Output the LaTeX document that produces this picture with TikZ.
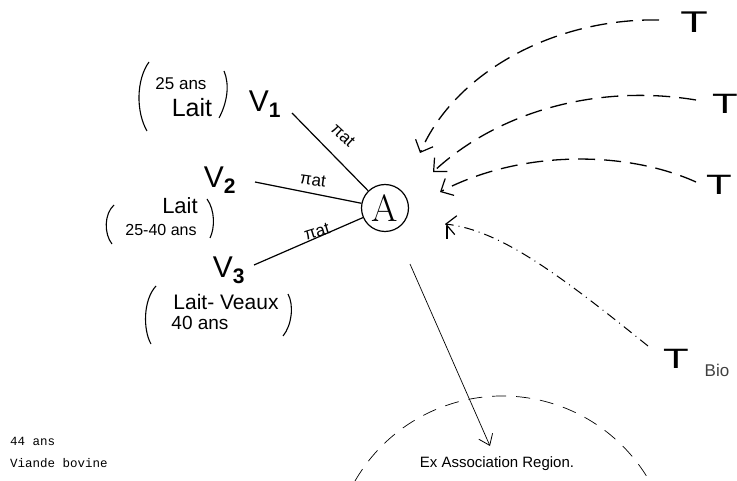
\documentclass[tikz,border=0pt]{standalone}
\usepackage{fontspec}
\setmainfont{Liberation Sans}
\newfontfamily\serifA{Latin Modern Roman}
\setmonofont{Liberation Mono}
\usetikzlibrary{arrows.meta}
\tikzset{
  hand/.style={inner sep=0pt, font=\fontsize{#1}{#1}\selectfont},
  hand/.default=18,
  link/.style={line width=1.2pt},
  barb/.style={-{Straight Barb[length=10pt,width=19pt,line width=1.2pt]}},
  flow/.style={line width=1.3pt, dash pattern=on 17pt off 9pt, barb},
  bioflow/.style={line width=1pt, dash pattern=on 10pt off 5pt on 1pt off 5pt, barb},
  paren/.style={line width=1.1pt},
  tee/.style={inner sep=0pt, xscale=1.5, font=\fontsize{#1}{#1}\selectfont},
}
\begin{document}
\begin{tikzpicture}[x=1pt,y=-1pt]
\useasboundingbox (0,0) rectangle (737,481);
% central node
\node[circle, draw, line width=1.2pt, minimum size=47pt, inner sep=0pt, font=\serifA\fontsize{38}{38}\selectfont] (A) at (385,208) {A};
% V nodes
\node[hand=30] (V1) at (265,104) {V$_{\mathbf 1}$};
\node[hand=30] (V2) at (220,180) {V$_{\mathbf 2}$};
\node[hand=30] (V3) at (229,270) {V$_{\mathbf 3}$};
\coordinate (v1e) at (292,113);
\coordinate (v2e) at (255,182);
\coordinate (v3e) at (254,265);
\draw[link] (v1e) -- (A);
\draw[link] (v2e) -- (A);
\draw[link] (v3e) -- (A);
\node[hand=17, rotate=-43] (p1) at (343,135) {πat};
\node[hand=17, rotate=-8] (p2) at (313,180) {πat};
\node[hand=17, rotate=17] (p3) at (317,232) {πat};
% group 1
\node[hand=17] (g1a) at (181,84) {25 ans};
\node[hand=25] (g1b) at (192,108) {Lait};
\draw[paren] (149,62) .. controls (136,80) and (136,112) .. (147,131);
\draw[paren] (224,71) .. controls (230,85) and (227,103) .. (219,118);
% group 2
\node[hand=22] (g2a) at (180,206) {Lait};
\node[hand=16] (g2b) at (161,230) {25-40 ans};
\draw[paren] (114,205) .. controls (104,214) and (104,234) .. (112,244);
\draw[paren] (207,199) .. controls (215,210) and (215,228) .. (210,238);
% group 3
\node[hand=21] (g3a) at (226,302) {Lait- Veaux};
\node[hand=19] (g3b) at (200,323) {40 ans};
\draw[paren] (156,286) .. controls (143,300) and (143,330) .. (151,344);
\draw[paren] (288,294) .. controls (294,305) and (292,325) .. (283,336);
% T nodes
\node[tee=30] (T1) at (694,22) {T};
\node[tee=28] (T2) at (725,104) {T};
\node[tee=28] (T3) at (719,185) {T};
\node[tee=28] (T4) at (676,359) {T};
\node[hand=17, text=black!75] (bio) at (717,370) {Bio};
\coordinate (t1) at (420,153);
\coordinate (t2) at (433,172);
\coordinate (t3) at (440,192);
\coordinate (t4) at (445,224);
\draw[flow] (659,20) .. controls (555,18) and (455,72) .. (t1);
\draw[flow] (696,100) .. controls (600,84) and (500,110) .. (t2);
\draw[flow] (696,182) .. controls (625,150) and (520,150) .. (t3);
\draw[bioflow] (648,346) .. controls (560,275) and (500,230) .. (t4);
\draw[line width=1.2pt] (447,226) -- (447,239);
% region
\coordinate (r) at (490,446);
\draw[line width=0.7pt, -{Straight Barb[length=10pt,width=15pt,line width=0.8pt]}] (410,264) -- (r);
\draw[line width=0.7pt, dash pattern=on 14pt off 10pt] (355,481) arc[start angle=-150, end angle=-30, radius=170];
\node[hand=15] (reg) at (497,464) {Ex Association Region.};
% mono text
\node[anchor=west, inner sep=0pt, font=\ttfamily\fontsize{12.5}{12.5}\selectfont] (m1) at (10,441) {44 ans};
\node[anchor=west, inner sep=0pt, font=\ttfamily\fontsize{12.5}{12.5}\selectfont] (m2) at (10,463) {Viande bovine};
\end{tikzpicture}
\end{document}
